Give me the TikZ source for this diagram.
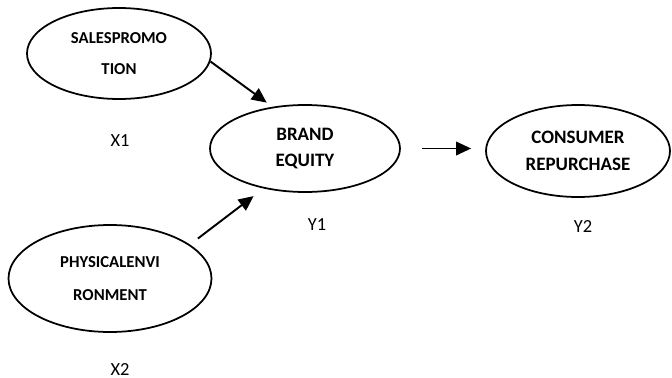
\documentclass[tikz,border=0pt]{standalone}
\usepackage{fontspec}
\setmainfont{Carlito}
\usetikzlibrary{arrows.meta, positioning, shapes.geometric}

\begin{document}
\begin{tikzpicture}[
		construct/.style={draw, ellipse, line width=1pt, inner sep=0pt,
			align=center, font=\fontsize{9.5}{15}\selectfont\bfseries},
		bigtext/.style={font=\fontsize{10.8}{15}\selectfont\bfseries},
		tag/.style={inner sep=0pt, font=\fontsize{10.5}{12}\selectfont},
		arrow/.style={-{Triangle[length=0.3cm, width=0.27cm]}, line width=1.1pt},
		node distance=0.5cm
	]
		\useasboundingbox (0,0) rectangle (13.44,-7.56);

		% constructs
		\node[construct, minimum width=3.68cm, minimum height=1.82cm] (sales) at (2.38,-1.07) {SALESPROMO\\[2.8pt]TION};
		\node[construct, bigtext, minimum width=3.80cm, minimum height=1.74cm] (brand) at (6.10,-2.97) {BRAND\\[-0.5pt]EQUITY};
		\node[construct, bigtext, minimum width=3.68cm, minimum height=1.84cm] (consumer) at (11.56,-3.02) {CONSUMER\\REPURCHASE};
		\node[construct, minimum width=4.06cm, minimum height=2.14cm] (physical) at (2.20,-5.57) {PHYSICALENVI\\[3.5pt]RONMENT};

		% variable names
		\node[tag, below=0.68cm of sales, xshift=0.02cm] (x1) {X1};
		\node[tag, below=0.5cm of brand, xshift=0.24cm] (y1) {Y1};
		\node[tag, below=0.44cm of consumer, xshift=0.1cm] (y2) {Y2};
		\node[tag, below=0.6cm of physical, xshift=0.2cm] (x2) {X2};

		% paths
		\draw[arrow, shorten >=0.14cm] (sales.-5) -- (brand.128);
		\draw[arrow, shorten <=0.2cm, shorten >=0.25cm] (physical.23) -- (brand.224);
		\draw[arrow, shorten <=0.42cm, shorten >=0.28cm] (brand.east) -- (brand.east -| consumer.west);
	\end{tikzpicture}
\end{document}
